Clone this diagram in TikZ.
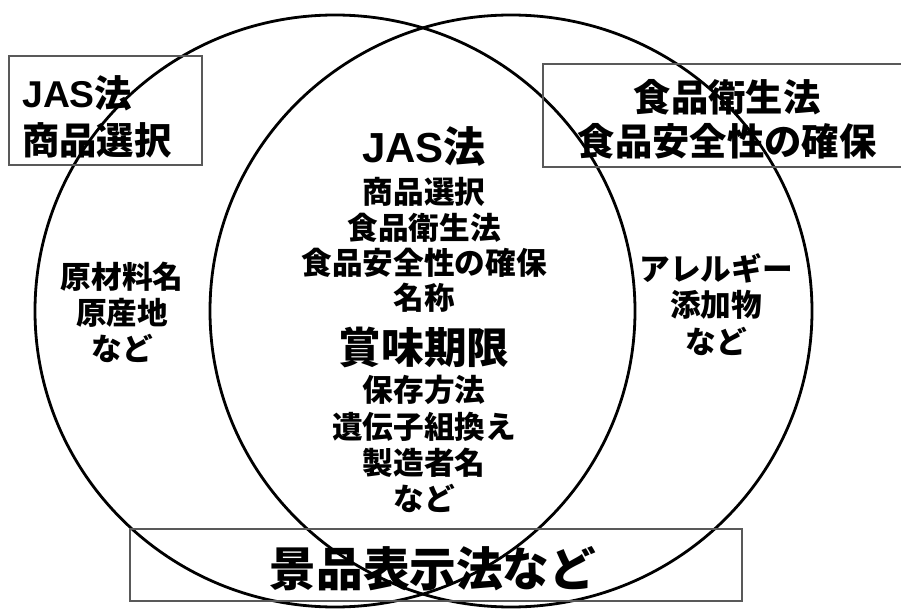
\documentclass[tikz,border=0pt]{standalone}
\usepackage{fontspec}
\setmainfont{Noto Sans CJK JP}
\newfontfamily\latf{Liberation Sans}
\tikzset{
  circ/.style={draw=black, line width=2.1pt},
  lbox/.style={draw=black!65, line width=0.8pt},
  txt/.style={inner sep=0pt, align=center, text=black},
  small/.style={txt, font=\bfseries\fontsize{23}{26}\selectfont},
  big/.style={txt, font=\bfseries\fontsize{31.5}{34}\selectfont},
  bigb/.style={txt, font=\bfseries\fontsize{32}{34}\selectfont},
  boxtxt/.style={txt, font=\bfseries\fontsize{28}{30}\selectfont},
  bottxt/.style={txt, font=\bfseries\fontsize{35}{38}\selectfont}
}
\begin{document}
\begin{tikzpicture}[x=0.75pt,y=-0.75pt]
\useasboundingbox (0,0) rectangle (901,610);
\clip (0,0) rectangle (901,610);
% circles
\draw[circ] (335,311) ellipse [x radius=300, y radius=296];
\draw[circ] (511,311) ellipse [x radius=301, y radius=296];
% boxes
\draw[lbox] (9,56) rectangle (202,165);
\draw[lbox] (543,64) rectangle (910,167);
\draw[lbox] (130,529) rectangle (742,601);
% left box text
\node[boxtxt, anchor=west] (lb1) at (22,93) {{\latf\bfseries JAS}法};
\node[boxtxt, anchor=west] (lb2) at (22,140) {商品選択};
% right box text
\node[boxtxt] (rb1) at (727,97) {食品衛生法};
\node[boxtxt] (rb2) at (727,141) {食品安全性の確保};
% center
\node[big] (c0) at (424,147) {{\latf\bfseries JAS}法};
\node[small] (c1) at (424,192) {商品選択};
\node[small] (c2) at (424,228) {食品衛生法};
\node[small] (c3) at (424,263) {食品安全性の確保};
\node[small] (c4) at (424,298) {名称};
\node[bigb] (c5) at (424,347) {賞味期限};
\node[small] (c6) at (424,390) {保存方法};
\node[small] (c7) at (424,427) {遺伝子組換え};
\node[small] (c8) at (424,463) {製造者名};
\node[small] (c9) at (424,498) {など};
% left circle text
\node[small] (l1) at (122,277) {原材料名};
\node[small] (l2) at (122,313) {原産地};
\node[small] (l3) at (122,348) {など};
% right circle text
\node[small] (r1) at (716,268) {アレルギー};
\node[small] (r2) at (716,305) {添加物};
\node[small] (r3) at (716,341) {など};
% bottom
\node[bottxt] (b1) at (433,569) {景品表示法など};
\end{tikzpicture}
\end{document}
